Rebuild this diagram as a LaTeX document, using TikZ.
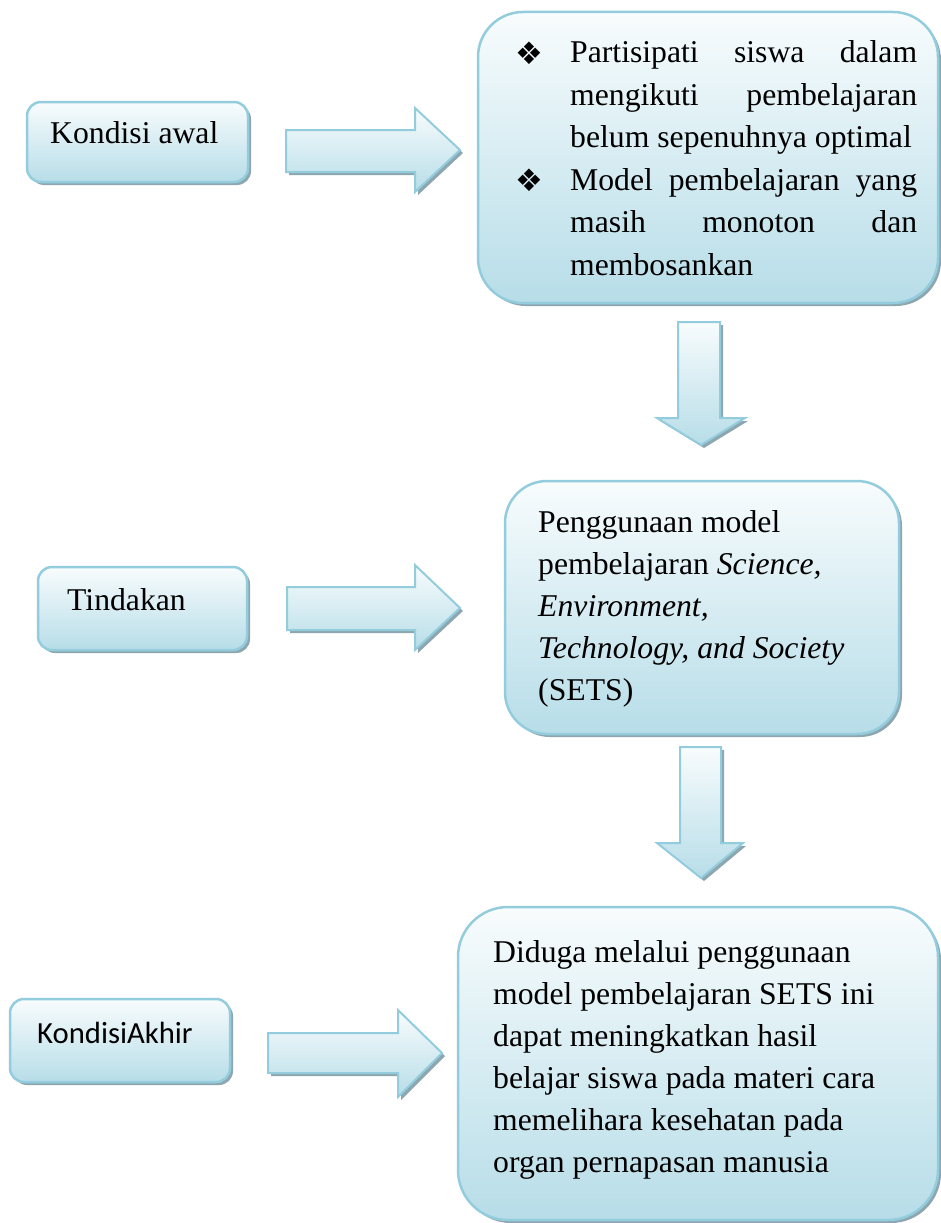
\documentclass[tikz,border=0pt]{standalone}
\usepackage{fontspec}
\setmainfont{Liberation Serif}
\newfontfamily\calibrifont{Carlito}
\newfontfamily\symbfont{DejaVu Sans}
\usetikzlibrary{shadows}
\definecolor{bordc}{HTML}{93CDDD}
\definecolor{topc}{HTML}{F8FCFD}
\definecolor{botc}{HTML}{B7DDE8}
\definecolor{shadc}{HTML}{8DA6AF}
\tikzset{
  myshadow/.style={drop shadow={shadow xshift=3pt, shadow yshift=-3pt, fill=shadc, opacity=1}},
  panel/.style={draw=bordc, line width=2.5pt, top color=topc, bottom color=botc, inner sep=0pt, myshadow},
  blockarrow/.style={draw=bordc, line width=2pt, line join=miter, top color=topc, bottom color=botc, myshadow},
  txt/.style={inner sep=0pt, anchor=base west, font=\fontsize{31.7}{42}\selectfont},
  bulletmark/.style={inner sep=0pt, anchor=base west, font=\symbfont\fontsize{31}{31}\selectfont},
}
\begin{document}
\begin{tikzpicture}[x=1pt,y=-1pt]
\useasboundingbox (0,0) rectangle (941,1223);
\fill[white] (0,0) rectangle (941,1223);

% boxes
\node[panel, rounded corners=14pt, minimum width=221pt, minimum height=80pt] (awal) at (137.5,142) {};
\node[panel, rounded corners=45pt, minimum width=460pt, minimum height=291pt] (masalah) at (708,157.5) {};
\node[panel, rounded corners=14pt, minimum width=209pt, minimum height=83pt] (tindakan) at (142.5,608.5) {};
\node[panel, rounded corners=42pt, minimum width=394pt, minimum height=253pt] (sets) at (702,607.5) {};
\node[panel, rounded corners=14pt, minimum width=220pt, minimum height=83pt] (akhir) at (120,1040.5) {};
\node[panel, rounded corners=50pt, minimum width=480pt, minimum height=313pt] (hasil) at (698,1063.5) {};

% block arrows
\path[blockarrow] (286,130) -- (415,130) -- (415,108) -- (460,150) -- (415,192) -- (415,172) -- (286,172) -- cycle;
\path[blockarrow] (287,587) -- (415,587) -- (415,565) -- (460,608) -- (415,650) -- (415,630) -- (287,630) -- cycle;
\path[blockarrow] (268,1033) -- (398,1033) -- (398,1010) -- (442,1053) -- (398,1097) -- (398,1073) -- (268,1073) -- cycle;
\path[blockarrow] (678,322) -- (720,322) -- (720,418) -- (745,418) -- (701,445) -- (657,418) -- (678,418) -- cycle;
\path[blockarrow] (680,747) -- (721,747) -- (721,843) -- (743,843) -- (701,878) -- (657,843) -- (680,843) -- cycle;

% texts
\node[txt] (t-awal) at (50,143) {Kondisi awal};
\node[txt] (t-tindakan) at (67,610) {Tindakan};
\node[txt, font=\calibrifont\fontsize{30.7}{42}\selectfont] (t-akhir) at (37,1043) {KondisiAkhir};

\node[bulletmark] (b1) at (515,64) {❖};
\node[bulletmark] (b2) at (515,191) {❖};
\node[txt] (t-m1) at (570,63) {\vtop{\baselineskip=42.4pt
  \hbox to 347pt{Partisipati\hfill siswa\hfill dalam}
  \hbox to 347pt{mengikuti\hfill pembelajaran}
  \hbox{belum sepenuhnya optimal}}};
\node[txt] (t-m2) at (570,190.2) {\vtop{\baselineskip=42.4pt
  \hbox to 347pt{Model\hfill pembelajaran\hfill yang}
  \hbox to 347pt{masih\hfill monoton\hfill dan}
  \hbox{membosankan}}};

\node[txt] (t-sets) at (538,532) {\vtop{\baselineskip=42pt
  \hbox{Penggunaan model}
  \hbox{pembelajaran \textit{Science,}}
  \hbox{\textit{Environment,}}
  \hbox{\textit{Technology, and Society}}
  \hbox{(SETS)}}};

\node[txt] (t-hasil) at (493,962) {\vtop{\baselineskip=42pt
  \hbox{Diduga melalui penggunaan}
  \hbox{model pembelajaran SETS ini}
  \hbox{dapat meningkatkan hasil}
  \hbox{belajar siswa pada materi cara}
  \hbox{memelihara kesehatan pada}
  \hbox{organ pernapasan manusia}}};
\end{tikzpicture}
\end{document}
